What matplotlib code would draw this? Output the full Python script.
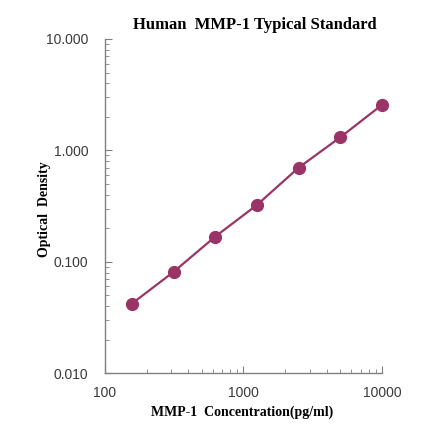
import matplotlib
matplotlib.use("Agg")
import matplotlib.pyplot as plt
import matplotlib.ticker as mticker

# Standard curve data
conc = [156.25, 312.5, 625, 1250, 2500, 5000, 10000]
od = [0.042, 0.081, 0.168, 0.323, 0.699, 1.31, 2.56]

y_ticks = [0.01, 0.1, 1, 10]
x_ticks = [100, 1000, 10000]

color = '#9b3466'

fig = plt.figure(figsize=(4.4, 4.41), dpi=100)
ax = fig.add_axes([0.2386, 0.154, 0.6295, 0.7576])

ax.plot(conc, od, '-', color=color, linewidth=1.6, marker='o',
        markersize=8.5, markerfacecolor=color, markeredgecolor=color,
        clip_on=False)

ax.set_xscale('log')
ax.set_yscale('log')
ax.set_xlim(100, 10000)
ax.set_ylim(0.01, 10)

ax.set_xticks(x_ticks)
ax.set_xticklabels([str(t) for t in x_ticks])
ax.set_yticks(y_ticks)
ax.set_yticklabels([f"{t:.3f}" for t in y_ticks])

for s in ['top', 'right']:
    ax.spines[s].set_visible(False)
for s in ['left', 'bottom']:
    ax.spines[s].set_color('#808080')
    ax.spines[s].set_linewidth(1.0)

ax.tick_params(which='both', direction='in', color='#808080')
ax.tick_params(which='major', length=5, width=0.8,
               labelsize=10, labelcolor='#3a3a3a')
ax.tick_params(axis='y', which='major', pad=12)
ax.tick_params(axis='x', which='major', pad=9)
ax.tick_params(which='minor', length=3, width=0.6)
ax.xaxis.set_minor_formatter(mticker.NullFormatter())
ax.yaxis.set_minor_formatter(mticker.NullFormatter())
for lbl in ax.get_xticklabels() + ax.get_yticklabels():
    lbl.set_family('Liberation Sans')

fig.text(0.58, 0.943, 'Human  MMP-1 Typical Standard', ha='center', va='center',
         family='Liberation Serif', fontweight='bold', fontsize=12)
fig.text(0.55, 0.066, 'MMP-1  Concentration(pg/ml)', ha='center', va='center',
         family='Liberation Serif', fontweight='bold', fontsize=10)
fig.text(0.1, 0.525, 'Optical  Density', ha='center', va='center', rotation=90,
         family='Liberation Serif', fontweight='bold', fontsize=10)

fig.savefig('out.png', dpi=100)
